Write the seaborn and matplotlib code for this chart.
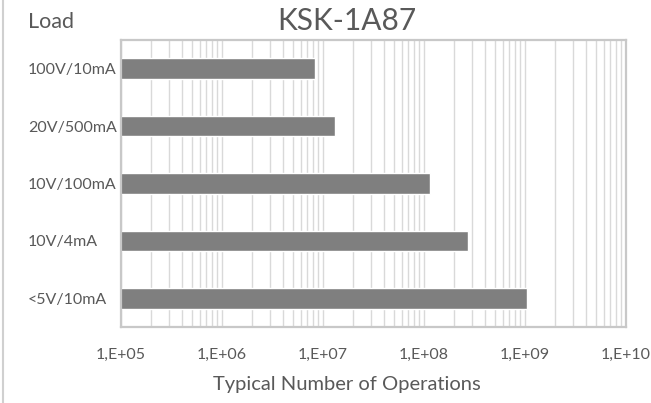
import numpy as np
import pandas as pd
import seaborn as sns
import matplotlib.pyplot as plt
from matplotlib.ticker import LogLocator, FuncFormatter, NullFormatter
from matplotlib.lines import Line2D

# Daten
loads = ['100V/10mA', '20V/500mA', '10V/100mA', '10V/4mA', '<5V/10mA']
operations = [8.4e6, 1.3e7, 1.15e8, 2.75e8, 1.05e9]
decade_ticks = [1e5, 1e6, 1e7, 1e8, 1e9, 1e10]

df = pd.DataFrame({'Load': loads, 'Operations': operations})

sns.set_theme(style='white')
plt.rcParams['font.family'] = ['Lato', 'DejaVu Sans']
text_col = '#595959'
grid_col = '#d9d9d9'

fig = plt.figure(figsize=(6.51, 4.03), dpi=100)
ax = fig.add_axes([121 / 651, 1 - 327 / 403, 505 / 651, 287 / 403])
ax.set_xscale('log')

sns.barplot(data=df, x='Operations', y='Load', orient='h', color='#7f7f7f',
            width=0.36, saturation=1, ax=ax)

ax.set_xlim(1e5, 1e10)
ax.xaxis.set_minor_locator(LogLocator(base=10, subs=np.arange(2, 10)))
ax.xaxis.set_minor_formatter(NullFormatter())
ax.set_xticks(decade_ticks)
ax.xaxis.set_major_formatter(FuncFormatter(lambda v, p: f"1,E+{int(round(np.log10(v))):02d}"))

ax.grid(True, axis='x', which='both', color=grid_col, lw=1.0)
ax.grid(False, axis='y')
ax.set_axisbelow(True)

for s in ax.spines.values():
    s.set_color('#c8c8c8')
    s.set_linewidth(1.6)

ax.tick_params(axis='x', which='both', length=0, pad=15, labelsize=11.5, labelcolor=text_col)
# Excel setzt die Kategorien linksbündig
ax.tick_params(axis='y', length=0, pad=(121 - 28) * 0.72, labelsize=11.5, labelcolor=text_col)
for lbl in ax.get_yticklabels():
    lbl.set_horizontalalignment('left')

ax.set_ylabel('')
ax.set_xlabel('Typical Number of Operations', fontsize=14.5, color=text_col)
ax.xaxis.set_label_coords((347 - 121) / 505, -0.17)

fig.text(347 / 651, 1 - 21 / 403, 'KSK-1A87', ha='center', va='center', fontsize=21.5, color=text_col)
fig.text(28 / 651, 1 - 22 / 403, 'Load', ha='left', va='center', fontsize=15.5, color=text_col)

# linker Rand des Diagrammbereichs
fig.add_artist(Line2D([2.5 / 651, 2.5 / 651], [0, 1], color='#d0d0d0', lw=1.5))

plt.savefig('out.png', dpi=100)
